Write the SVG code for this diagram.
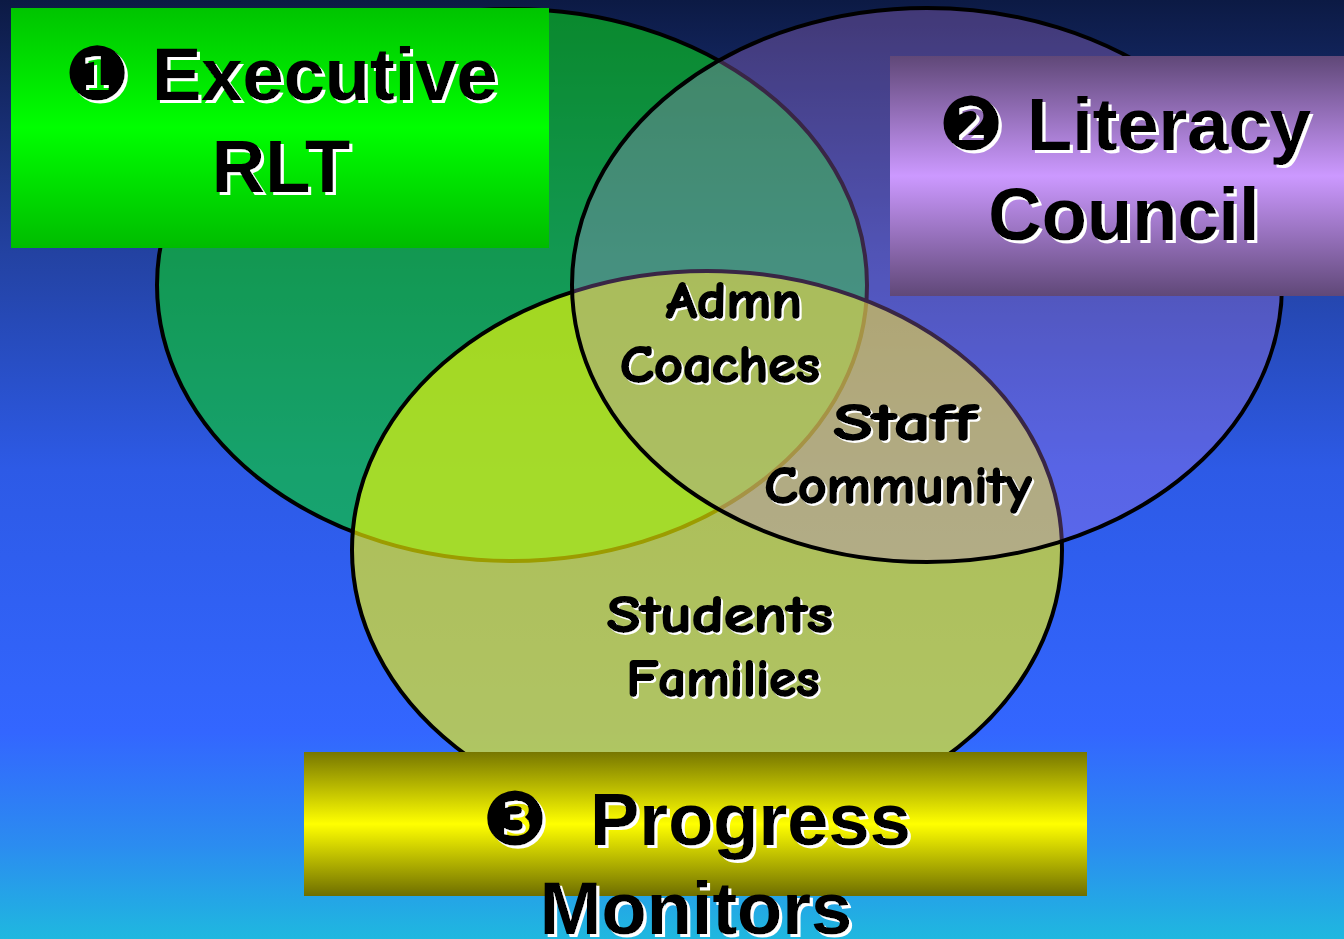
<svg xmlns="http://www.w3.org/2000/svg" width="1344" height="939" viewBox="0 0 1344 939">
<defs>
<linearGradient id="bg" x1="0" y1="0" x2="0" y2="1">
<stop offset="0" stop-color="#0c1a44"/>
<stop offset="0.27" stop-color="#2342a2"/>
<stop offset="0.5" stop-color="#2d5ae6"/>
<stop offset="0.78" stop-color="#3366ff"/>
<stop offset="0.9" stop-color="#2b8cf0"/>
<stop offset="1" stop-color="#1fb8df"/>
</linearGradient>
<linearGradient id="gGreen" x1="0" y1="0" x2="0" y2="1">
<stop offset="0" stop-color="#00c400"/>
<stop offset="0.5" stop-color="#00ff00"/>
<stop offset="1" stop-color="#00bc00"/>
</linearGradient>
<linearGradient id="gPurple" x1="0" y1="0" x2="0" y2="1">
<stop offset="0" stop-color="#604878"/>
<stop offset="0.5" stop-color="#cc99ff"/>
<stop offset="1" stop-color="#604878"/>
</linearGradient>
<linearGradient id="gYellow" x1="0" y1="0" x2="0" y2="1">
<stop offset="0" stop-color="#777700"/>
<stop offset="0.5" stop-color="#ffff00"/>
<stop offset="1" stop-color="#6e6e00"/>
</linearGradient>
<filter id="ws3" x="-10%" y="-10%" width="120%" height="130%">
<feOffset in="SourceAlpha" dx="3" dy="3" result="o"/>
<feFlood flood-color="#ffffff"/>
<feComposite in2="o" operator="in" result="s"/>
<feMerge><feMergeNode in="s"/><feMergeNode in="SourceGraphic"/></feMerge>
</filter>
<filter id="ws2" x="-10%" y="-10%" width="120%" height="130%">
<feOffset in="SourceAlpha" dx="2" dy="2" result="o"/>
<feFlood flood-color="#ffffff"/>
<feComposite in2="o" operator="in" result="s"/>
<feMerge><feMergeNode in="s"/><feMergeNode in="SourceGraphic"/></feMerge>
</filter>
</defs>
<style>
.ring{stroke:#000;stroke-width:4}
.title{font-family:"Liberation Sans",Arial,sans-serif;font-weight:bold;font-size:74px;fill:#000;filter:url(#ws3)}
.num{font-family:"DejaVu Sans",sans-serif;font-weight:normal}
.lbl{font-family:"Comic Sans MS","Comic Neue","Open Sans",sans-serif;font-weight:bold;font-size:52px;fill:#000;stroke:#000;stroke-width:1.8;stroke-linejoin:round;filter:url(#ws2)}
</style>
<rect x="0" y="0" width="1344" height="939" fill="url(#bg)"/>
<g id="set-executive-circle">
<ellipse class="ring" cx="512" cy="285" rx="355" ry="276" fill="#08d21c" fill-opacity="0.6"/>
</g>
<g id="set-progress-circle">
<ellipse class="ring" cx="707" cy="550" rx="355" ry="279" fill="#ffff00" fill-opacity="0.61"/>
</g>
<g id="set-literacy-circle">
<ellipse class="ring" cx="927" cy="285" rx="355" ry="277" fill="#be7de6" fill-opacity="0.3"/>
</g>
<g id="connectors"/>
<g id="label-admn-coaches">
<text class="lbl" x="734" y="318" text-anchor="middle" textLength="136" lengthAdjust="spacingAndGlyphs">Admn</text>
<text class="lbl" x="720" y="382" text-anchor="middle" textLength="200" lengthAdjust="spacingAndGlyphs">Coaches</text>
</g>
<g id="label-staff-community">
<text class="lbl" x="905" y="440" text-anchor="middle" textLength="143" lengthAdjust="spacingAndGlyphs">Staff</text>
<text class="lbl" x="898" y="503" text-anchor="middle" textLength="267" lengthAdjust="spacingAndGlyphs">Community</text>
</g>
<g id="label-students-families">
<text class="lbl" x="720" y="632" text-anchor="middle" textLength="226" lengthAdjust="spacingAndGlyphs">Students</text>
<text class="lbl" x="723" y="696" text-anchor="middle" textLength="193" lengthAdjust="spacingAndGlyphs">Families</text>
</g>
<g id="node-executive-rlt">
<rect x="11" y="8" width="538" height="240" fill="url(#gGreen)"/>
<text class="title" y="100"><tspan class="num" x="64">❶</tspan><tspan x="152">Executive</tspan></text>
<text class="title" x="281" y="192" text-anchor="middle">RLT</text>
</g>
<g id="node-literacy-council">
<rect x="890" y="56" width="454" height="240" fill="url(#gPurple)"/>
<text class="title" y="150"><tspan class="num" x="938">❷</tspan><tspan x="1027">Literacy</tspan></text>
<text class="title" x="1124" y="240" text-anchor="middle">Council</text>
</g>
<g id="node-progress-monitors">
<rect x="304" y="752" width="783" height="144" fill="url(#gYellow)"/>
<text class="title" y="845"><tspan class="num" x="482">❸</tspan><tspan x="590">Progress</tspan></text>
<text class="title" x="696" y="934" text-anchor="middle">Monitors</text>
</g>
</svg>
